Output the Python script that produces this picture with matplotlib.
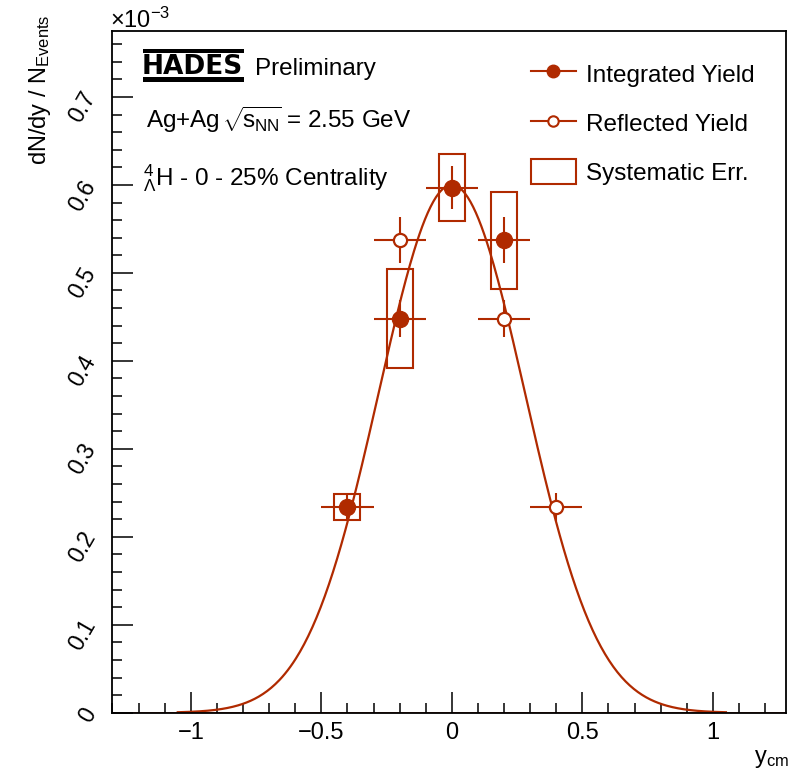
import numpy as np
import matplotlib
matplotlib.use('Agg')
import matplotlib.pyplot as plt
from matplotlib.lines import Line2D
from matplotlib.patches import Patch, Rectangle
from matplotlib.ticker import MultipleLocator

plt.rcParams['font.family'] = ['Liberation Sans', 'DejaVu Sans']
plt.rcParams['mathtext.fontset'] = 'custom'
plt.rcParams['mathtext.rm'] = 'Liberation Sans'
plt.rcParams['mathtext.it'] = 'Liberation Sans:italic'
plt.rcParams['mathtext.bf'] = 'Liberation Sans:bold'

# data (dN/dy in units of 1e-3)
y_int = [-0.4, -0.2, 0.0, 0.2]
dndy_int = [0.234, 0.448, 0.597, 0.537]
stat_int = [0.016, 0.021, 0.024, 0.026]
sys_int = [0.015, 0.056, 0.038, 0.055]

y_refl = [-0.2, 0.2, 0.4]
dndy_refl = [0.537, 0.448, 0.234]
stat_refl = [0.026, 0.021, 0.016]

bin_half = 0.1
sys_width = 0.1

# gaussian fit parameters
fit_amp = 0.6
fit_sigma = 0.28
fit_range = (-1.05, 1.05)

col = '#b02a00'
W, H = 791, 776

fig = plt.figure(figsize=(W / 100, H / 100), dpi=100)
ax = fig.add_axes([111.7 / W, 1 - 712.7 / H, (785.7 - 111.7) / W, (712.7 - 31) / H])

# fit curve
xf = np.linspace(fit_range[0], fit_range[1], 400)
ax.axhline(0, color=col, lw=1.2, zorder=1)
ax.plot(xf, fit_amp * np.exp(-xf**2 / (2 * fit_sigma**2)), color=col, lw=1.6, zorder=2)

# systematic boxes
ax.bar(y_int, [2 * s for s in sys_int], bottom=[v - s for v, s in zip(dndy_int, sys_int)],
       width=sys_width, fill=False, edgecolor=col, lw=1.5, zorder=3)

ax.errorbar(y_int, dndy_int, xerr=bin_half, yerr=stat_int, fmt='o', color=col,
            ms=11.5, elinewidth=1.5, capsize=0, zorder=4)
ax.errorbar(y_refl, dndy_refl, xerr=bin_half, yerr=stat_refl, fmt='o', color=col,
            mfc='white', mec=col, mew=1.6, ms=9.5, elinewidth=1.5, capsize=0, zorder=4)

ax.set_xlim(-1.303, 1.279)
ax.set_ylim(0, 0.775)
ax.xaxis.set_major_locator(MultipleLocator(0.5))
ax.xaxis.set_minor_locator(MultipleLocator(0.1))
ax.yaxis.set_major_locator(MultipleLocator(0.1))
ax.yaxis.set_minor_locator(MultipleLocator(0.02))
ax.tick_params(which='both', direction='in', top=False, right=False, width=1.1)
ax.tick_params(which='major', length=15)
ax.tick_params(which='minor', length=7.5)
ax.tick_params(axis='x', labelsize=17, pad=7)
ax.tick_params(axis='y', labelsize=16.5, pad=8, labelrotation=60)
ax.set_xticks([-1, -0.5, 0, 0.5, 1])
ax.set_xticklabels(['\u22121', '\u22120.5', '0', '0.5', '1'])
ax.set_yticks(np.arange(0, 0.71, 0.1))
ax.set_yticklabels(['0', '0.1', '0.2', '0.3', '0.4', '0.5', '0.6', '0.7'])
for s in ax.spines.values():
    s.set_linewidth(1.3)


def ft(x, y, s, **kw):
    fig.text(x / W, 1 - y / H, s, **kw)


ft(110, 28, r'$\times\mathrm{10}^{-3}$', fontsize=17, va='baseline', ha='left')
ft(40, 14, r'dN/dy / N$_{\mathrm{Events}}$', fontsize=17, rotation=90, ha='center', va='top')
ft(789, 748, r'y$_{\mathrm{cm}}$', fontsize=17, ha='right', va='top')

# HADES logo
ft(142, 74.5, 'HADES', family='DejaVu Sans', weight='bold', fontsize=19, va='baseline', ha='left')
fig.patches.append(Rectangle((143 / W, 1 - 53 / H), 101 / W, 4 / H, transform=fig.transFigure,
                             color='black', lw=0))
fig.patches.append(Rectangle((143 / W, 1 - 82 / H), 101 / W, 5 / H, transform=fig.transFigure,
                             color='black', lw=0))
ft(255, 75, 'Preliminary', fontsize=17.5, va='baseline', ha='left')
ft(146, 128, r'Ag+Ag $\!\sqrt{\!\mathrm{s}_{\mathrm{NN}}\!}$ = 2.55 GeV', fontsize=17.5,
   va='baseline', ha='left')
ft(143, 185, r'${}^{4}_{\Lambda}$H - 0 - 25% Centrality', fontsize=17.5, va='baseline', ha='left')

handles = [Line2D([], [], color=col, marker='o', ms=9, lw=1.5),
           Line2D([], [], color=col, marker='o', ms=7.5, mfc='white', mew=1.5, lw=1.5),
           Patch(facecolor='none', edgecolor=col, lw=1.5)]
labels = ['Integrated Yield', 'Reflected Yield', 'Systematic Err.']
leg = fig.legend(handles, labels, loc='upper left', bbox_to_anchor=(531 / W, 1 - 61 / H),
                 frameon=False, fontsize=17.5, borderpad=0, borderaxespad=0,
                 handlelength=1.85, handleheight=1.2, handletextpad=0.4, labelspacing=0.97)

fig.savefig('out.png', dpi=100)
